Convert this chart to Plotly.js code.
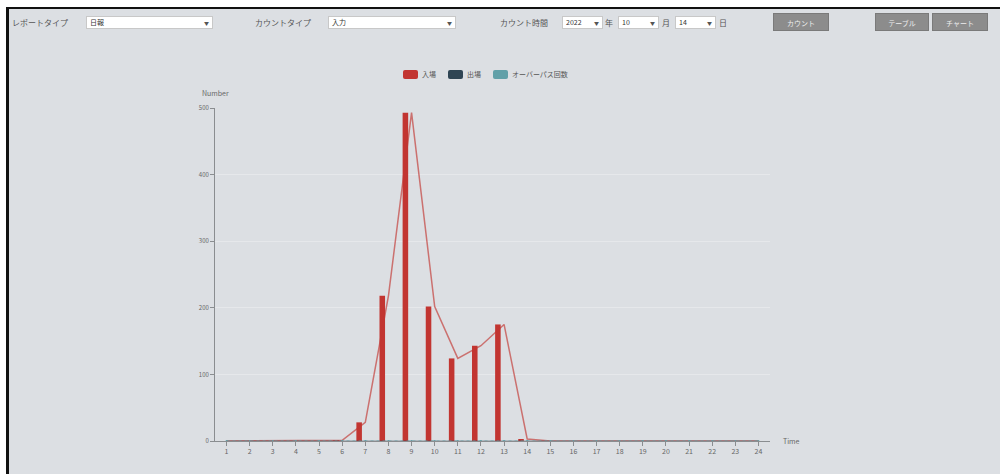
<!DOCTYPE html>
<html><head><meta charset="utf-8">
<script src="https://cdn.plot.ly/plotly-3.0.1.min.js"></script>
<style>
html,body{margin:0;padding:0;width:1000px;height:474px;overflow:hidden;background:#fff;font-family:"Noto Sans CJK JP","Noto Sans",sans-serif;}
#frame{position:absolute;left:6px;top:7px;width:994px;height:467px;background:#dcdfe3;border-top:2px solid #111;border-left:3px solid #111;box-sizing:border-box;}
#chart{position:absolute;left:0;top:0;width:1000px;height:474px;}
.lbl{position:absolute;font-size:8px;color:#555;top:18px;line-height:10px;white-space:nowrap;}
.sel{position:absolute;top:16px;height:13px;background:#fff;border:1px solid #c8c8c8;box-sizing:border-box;font-size:7px;line-height:11px;color:#333;padding-left:3px;}
.sel:after{content:"▼";position:absolute;right:3px;top:0;font-size:5px;color:#555;}
.btn{position:absolute;top:13px;height:18px;background:#8c8c8c;color:#eee;font-size:7px;line-height:18px;text-align:center;border:1px solid #7a7a7a;box-sizing:border-box;}
.lg{position:absolute;top:70px;height:9px;width:15px;border-radius:2px;}
.lgt{position:absolute;top:69px;font-size:7px;line-height:10px;color:#555;white-space:nowrap;}
</style></head>
<body>
<div id="frame"></div>
<div class="lbl" style="left:12px">レポートタイプ</div>
<div class="sel" style="left:86px;width:127px">日報</div>
<div class="lbl" style="left:255px">カウントタイプ</div>
<div class="sel" style="left:328px;width:128px">入力</div>
<div class="lbl" style="left:500px">カウント時間</div>
<div class="sel" style="left:562px;width:41px">2022</div>
<div class="lbl" style="left:605px">年</div>
<div class="sel" style="left:618px;width:41px">10</div>
<div class="lbl" style="left:662px">月</div>
<div class="sel" style="left:675px;width:41px">14</div>
<div class="lbl" style="left:719px">日</div>
<div class="btn" style="left:773px;width:56px">カウント</div>
<div class="btn" style="left:875px;width:54px">テーブル</div>
<div class="btn" style="left:932px;width:56px">チャート</div>
<div id="chart"></div>
<div id="legend"></div>
<script>
const hours = ['1','2','3','4','5','6','7','8','9','10','11','12','13','14','15','16','17','18','19','20','21','22','23','24'];
const inCounts = [0,0,0,0,0,1,28,218,493,202,124,143,175,3,0,0,0,0,0,0,0,0,0,0];
const outCounts = [0,0,0,0,0,0,0,0,0,0,0,0,0,0,0,0,0,0,0,0,0,0,0,0];
const passCounts = [0,0,0,0,0,0,0,0,0,0,0,0,0,0,0,0,0,0,0,0,0,0,0,0];
const seriesNames = ['入場','出場','オーバーパス回数'];
const colors = ['#c23531','#2f4554','#61a0a8'];
const yTicks = [0,100,200,300,400,500];

// legend (HTML) built from the series names/colors
const legendPos = [403, 448, 493];
const lgDiv = document.getElementById('legend');
seriesNames.forEach((n,i)=>{
  const s = document.createElement('div'); s.className='lg'; s.style.left=legendPos[i]+'px'; s.style.background=colors[i]; lgDiv.appendChild(s);
  const t = document.createElement('div'); t.className='lgt'; t.style.left=(legendPos[i]+19)+'px'; t.textContent=n; lgDiv.appendChild(t);
});

const traces = [
  {type:'bar', x:hours, y:inCounts, name:seriesNames[0], marker:{color:colors[0]}},
  {type:'bar', x:hours, y:outCounts, name:seriesNames[1], marker:{color:colors[1]}},
  {type:'bar', x:hours, y:passCounts, name:seriesNames[2], marker:{color:colors[2]}},
  {type:'scatter', mode:'lines', x:hours, y:inCounts, line:{color:'rgba(194,53,49,0.65)', width:1.5}},
  {type:'scatter', mode:'lines', x:hours, y:outCounts, line:{color:'rgba(47,69,84,0.5)', width:1}},
  {type:'scatter', mode:'lines+markers', x:hours, y:passCounts, line:{color:'rgba(97,160,168,0.8)', width:1, dash:'dot'}, marker:{size:2,color:colors[2]}}
];

const layout = {
  width:1000, height:474,
  margin:{l:215, r:230, t:108, b:33},
  paper_bgcolor:'rgba(0,0,0,0)', plot_bgcolor:'rgba(0,0,0,0)',
  barmode:'group', bargap:0.2, bargroupgap:0.1,
  font:{family:'"Noto Sans CJK JP","Noto Sans",sans-serif', size:7, color:'#555'},
  showlegend:false,
  xaxis:{type:'category', range:[-0.5,23.5], showline:true, linecolor:'#8a8d90', linewidth:1, ticks:'outside', ticklen:4, tickcolor:'#8a8d90', showgrid:false, zeroline:false, tickfont:{size:7,color:'#666'}, fixedrange:true},
  yaxis:{range:[0,500], tickvals:yTicks, showline:true, linecolor:'#8a8d90', linewidth:1, ticks:'outside', ticklen:4, tickcolor:'#8a8d90', showgrid:true, gridcolor:'#e6e8eb', gridwidth:1, zeroline:false, tickfont:{size:6,color:'#666'}, fixedrange:true},
  annotations:[
    {text:'Time', xref:'paper', yref:'paper', x:1.02, y:0, xanchor:'left', yanchor:'middle', showarrow:false, font:{size:7,color:'#666'}},
    {text:'Number', xref:'paper', yref:'paper', x:0.0, y:1.0, xanchor:'center', yanchor:'bottom', yshift:8, showarrow:false, font:{size:7,color:'#666'}}
  ]
};
Plotly.newPlot('chart', traces, layout, {displayModeBar:false, staticPlot:true});
</script>
</body></html>
